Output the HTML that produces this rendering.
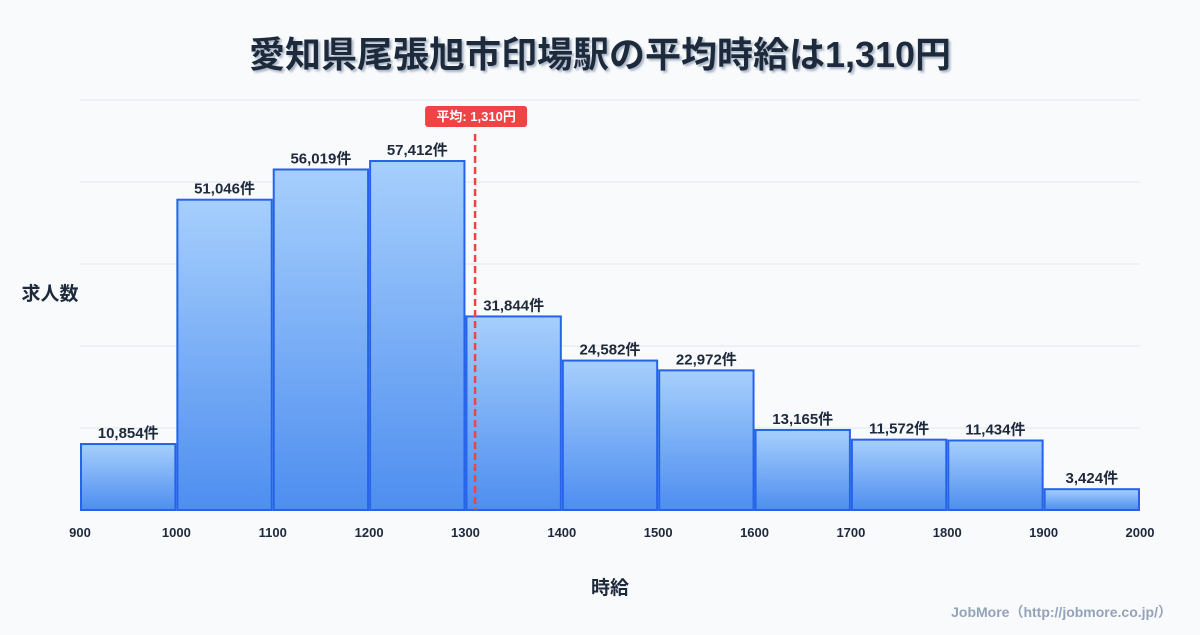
<!DOCTYPE html>
<html><head><meta charset="utf-8">
<style>
body{margin:0;background:#f8fafc;font-family:"Liberation Sans","Noto Sans CJK JP",sans-serif;}
svg text{font-family:"Liberation Sans","Noto Sans CJK JP",sans-serif;}
</style></head>
<body>
<svg id="chart" width="1200" height="630" viewBox="0 0 1200 630" xmlns="http://www.w3.org/2000/svg">
<defs>
<linearGradient id="barGrad" x1="0" y1="0" x2="0" y2="1">
<stop offset="0" stop-color="#a6cffc"/><stop offset="1" stop-color="#4e8ef0"/>
</linearGradient>
<filter id="ts" x="-5%" y="-20%" width="110%" height="140%"><feDropShadow dx="2" dy="2" stdDeviation="1" flood-color="#94a3b8" flood-opacity="0.8"/></filter>
</defs>
<rect width="1200" height="630" fill="#f8fafc"/>
<text x="600" y="67" text-anchor="middle" font-size="36" font-weight="bold" fill="#1e293b" filter="url(#ts)">愛知県尾張旭市印場駅の平均時給は1,310円</text>
<g id="grid"></g>
<g id="bars"></g>
<g id="xticks"></g>
<g id="mean"></g>
<text x="50" y="300" text-anchor="middle" font-size="19" font-weight="bold" fill="#1e293b">求人数</text>
<text x="610" y="594" text-anchor="middle" font-size="19" font-weight="bold" fill="#1e293b">時給</text>
<text x="1172" y="617" text-anchor="end" font-size="14" font-weight="bold" fill="#94a3b8">JobMore（http://jobmore.co.jp/）</text>
</svg>
<script>
const binStarts=[900,1000,1100,1200,1300,1400,1500,1600,1700,1800,1900];
const counts=[10854,51046,56019,57412,31844,24582,22972,13165,11572,11434,3424];
const tickLabels=[900,1000,1100,1200,1300,1400,1500,1600,1700,1800,1900,2000];
const meanValue=1310;
const yMax=67450;
const NS="http://www.w3.org/2000/svg";
const x=v=>80+(v-900)*(1060/1100);
const y=v=>510-v/yMax*410;
function mk(tag,attrs,parent){const e=document.createElementNS(NS,tag);for(const k in attrs)e.setAttribute(k,attrs[k]);parent.appendChild(e);return e;}
const grid=document.getElementById('grid');
for(let i=0;i<=5;i++){const gy=510-i*82;
const l=mk('line',{x1:80,x2:1140,y1:gy,y2:gy,stroke:i==0?'#cbd5e1':'#e2e8f0','stroke-width':1},grid);

}
const bars=document.getElementById('bars');
binStarts.forEach((b,i)=>{
const x0=x(b)+1,x1=x(b+100)-1,yt=y(counts[i]);
const r=mk('rect',{x:x0,y:yt,width:x1-x0,height:510-yt,fill:'url(#barGrad)',stroke:'#2563eb','stroke-width':2},bars);


const t=mk('text',{x:(x0+x1)/2,y:yt-6,'text-anchor':'middle','font-size':15,'font-weight':'bold',fill:'#1e293b'},bars);
t.textContent=counts[i].toLocaleString('en-US')+'件';


});
const xt=document.getElementById('xticks');
tickLabels.forEach(v=>{
const t=mk('text',{x:x(v),y:537,'text-anchor':'middle','font-size':13,'font-weight':'bold',fill:'#1e293b'},xt);
t.textContent=v;


});
const mg=document.getElementById('mean');
const mx=x(meanValue);
const ml=mk('line',{x1:mx,x2:mx,y1:134,y2:510,stroke:'#ef4444','stroke-width':2.5,'stroke-dasharray':'7,4'},mg);


const mb=mk('rect',{x:mx-50,y:106,width:102,height:21,rx:3,fill:'#ef4444'},mg);


const mt=mk('text',{x:mx+1,y:121,'text-anchor':'middle','font-size':13,'font-weight':'bold',fill:'#fff'},mg);
mt.textContent='平均: '+meanValue.toLocaleString('en-US')+'円';


</script>
</body></html>
